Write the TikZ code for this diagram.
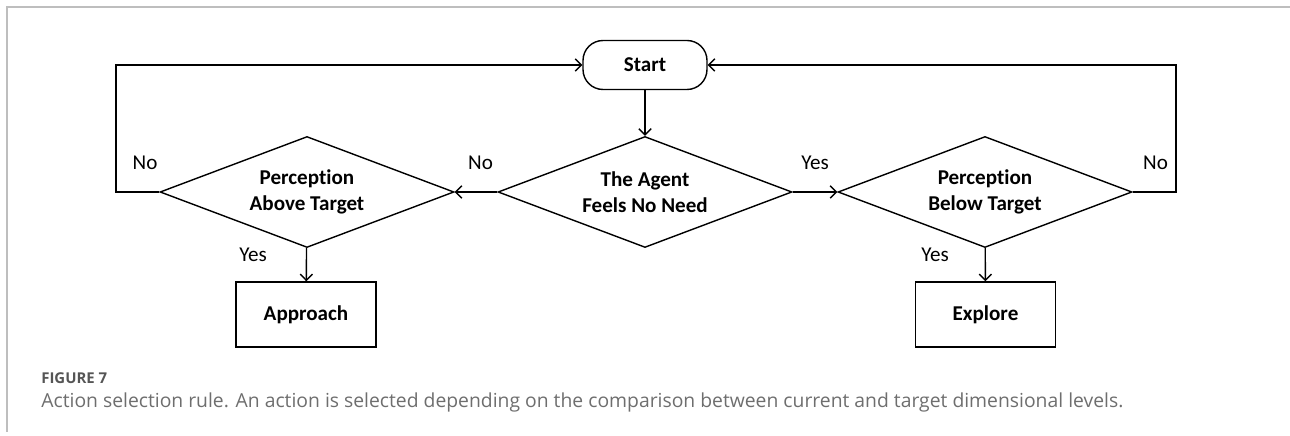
\documentclass[tikz,border=0pt]{standalone}
\usepackage{fontspec}
\setmainfont{Carlito}[Ligatures=NoCommon]
\newfontfamily\capfont{Open Sans}
\usetikzlibrary{shapes.geometric,arrows.meta}
\definecolor{framegray}{RGB}{190,190,190}
\definecolor{capgray}{RGB}{110,110,110}
\definecolor{capdark}{RGB}{85,85,85}

\begin{document}
\begin{tikzpicture}[
        decision/.style={diamond, draw, line width=0.8pt, minimum width=5.88cm, minimum height=2.22cm, inner sep=0pt, aspect=2.65, font=\fontsize{12}{14.6}\selectfont\bfseries, align=center},
        action/.style={rectangle, draw, line width=0.8pt, minimum width=2.8cm, minimum height=1.3cm, font=\fontsize{12}{14.6}\selectfont\bfseries},
        terminal/.style={rectangle, rounded corners=0.4cm, draw, line width=0.8pt, minimum width=2.48cm, minimum height=0.98cm, font=\fontsize{12}{14.6}\selectfont\bfseries},
        arrow/.style={-{Straight Barb[length=3.5pt,width=7pt]}, line width=0.8pt},
        lbl/.style={font=\fontsize{12}{14.6}\selectfont, inner sep=0pt}
    ]
        \useasboundingbox (0,0) rectangle (25.8,8.72);
        \draw[framegray, line width=0.8pt] (0.14,0.08) -- (0.14,8.58) -- (25.8,8.58);

        % === Decision flow ===
        \node[terminal] (start) at (12.9,7.42) {Start};
        \node[decision] (need) at (12.9,4.88) {The Agent\\Feels No Need};
        \node[decision] (above) at (6.14,4.88) {Perception\\Above Target};
        \node[decision] (below) at (19.7,4.88) {Perception\\Below Target};
        \node[action] (approach) at (6.12,2.43) {Approach};
        \node[action] (explore) at (19.71,2.43) {Explore};

        \coordinate (loopL) at (2.32,7.42);
        \coordinate (loopR) at (23.52,7.42);

        \draw[arrow] (start) -- (need);
        \draw[arrow] (need) -- (above);
        \draw[arrow] (need) -- (below);
        \draw[arrow] (above.west) -| (loopL) -- (start.west);
        \draw[arrow] (below.east) -| (loopR) -- (start.east);
        \draw[arrow] (above) -- (approach);
        \draw[arrow] (below) -- (explore);

        % === Labels ===
        \node[lbl] (noL) at (2.9,5.46) {No};
        \node[lbl] (noM) at (9.61,5.46) {No};
        \node[lbl] (yesM) at (16.3,5.46) {Yes};
        \node[lbl] (noR) at (23.11,5.46) {No};
        \node[lbl] (yesL) at (5.06,3.62) {Yes};
        \node[lbl] (yesR) at (18.7,3.62) {Yes};

        % === Caption ===
        \node[anchor=west, inner sep=0pt, text=capdark, font=\capfont\bfseries\fontsize{8.5}{10}\selectfont] (figno) at (0.82,1.16) {FIGURE 7};
        \node[anchor=west, inner sep=0pt, text=capgray, font=\capfont\fontsize{11}{13}\selectfont] (figcap) at (0.82,0.68) {Action selection rule. An action is selected depending on the comparison between current and target dimensional levels.};
    \end{tikzpicture}
\end{document}
